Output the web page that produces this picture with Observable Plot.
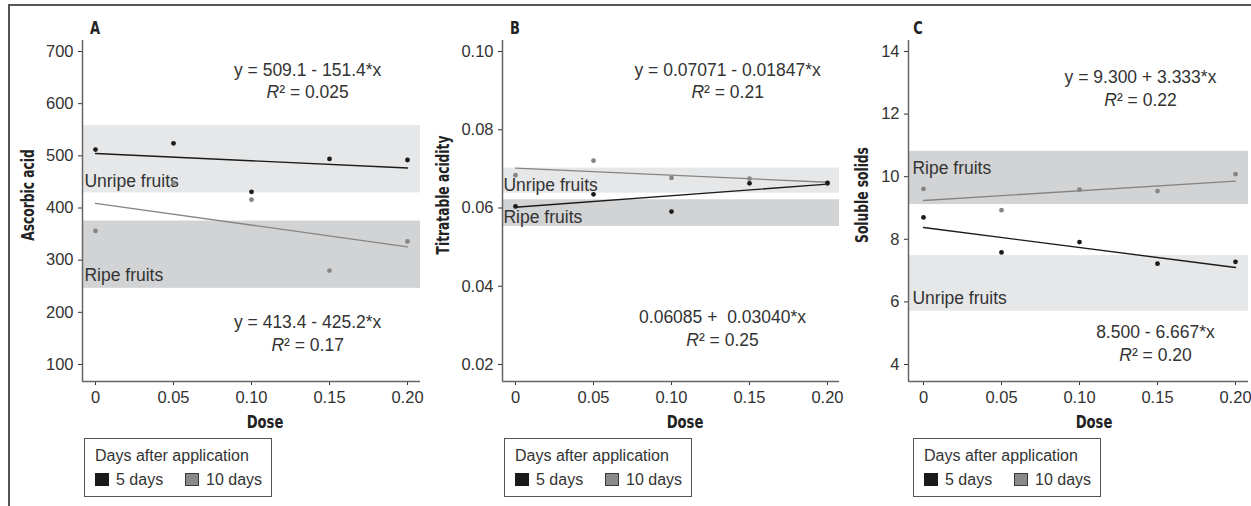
<!DOCTYPE html>
<html>
<head>
<meta charset="utf-8">
<script src="https://cdn.jsdelivr.net/npm/d3@7"></script>
<script src="https://cdn.jsdelivr.net/npm/@observablehq/plot@0.6"></script>
<style>
  html, body { margin: 0; padding: 0; background: #fff; }
  #fig { position: relative; width: 1251px; height: 506px; overflow: hidden; font-family: "Liberation Sans", Arial, sans-serif; color: #333; }
  #fig svg { position: absolute; top: 0; }
  .lbl { position: absolute; white-space: nowrap; line-height: 1; }
  .bold { font-family: "Liberation Sans Narrow", "DejaVu Sans Condensed", sans-serif; font-weight: bold; font-size: 17px; color: #222; }
  .legend { position: absolute; top: 438px; width: 186px; height: 57px; border: 1.5px solid #555; font-size: 16px; color: #333; }
  .legend .t { position: absolute; left: 10px; top: 8px; }
  .legend .sq { position: absolute; top: 34px; width: 14px; height: 13px; box-sizing: border-box; }
  .legend .k { position: absolute; top: 32px; }
</style>
</head>
<body>
<div id="fig"></div>
<script>
// ---------- data ----------
const doses = [0, 0.05, 0.10, 0.15, 0.20];
const xTicks = [0, 0.05, 0.10, 0.15, 0.20];
const xTickLabels = ["0", "0.05", "0.10", "0.15", "0.20"];

const seriesNames = ["5 days", "10 days"];
const legendTitle = "Days after application";

// Panel A: Ascorbic acid
const ascorbic5  = [512, 524, 431, 494, 492];
const ascorbic10 = [356, 448, 416, 280, 336];
const ascorbicTicks = [100, 200, 300, 400, 500, 600, 700];
const ascorbicTickLabels = ["100", "200", "300", "400", "500", "600", "700"];
const ascorbicUnripe = [429, 558];
const ascorbicRipe = [246, 375];
const ascorbicEq = ["y = 509.1 - 151.4*x", "y = 413.4 - 425.2*x"];
const ascorbicR2 = ["R² = 0.025", "R² = 0.17"];

// Panel B: Titratable acidity
const acidity5  = [0.0604, 0.0635, 0.0591, 0.0663, 0.0664];
const acidity10 = [0.0684, 0.0721, 0.0677, 0.0675, 0.0662];
const acidityTicks = [0.02, 0.04, 0.06, 0.08, 0.10];
const acidityTickLabels = ["0.02", "0.04", "0.06", "0.08", "0.10"];
const acidityUnripe = [0.0638, 0.0702];
const acidityRipe = [0.0553, 0.0621];
const acidityEq = ["y = 0.07071 - 0.01847*x", "0.06085 +  0.03040*x"];
const acidityR2 = ["R² = 0.21", "R² = 0.25"];

// Panel C: Soluble solids
const solids5  = [8.70, 7.58, 7.91, 7.22, 7.28];
const solids10 = [9.61, 8.93, 9.59, 9.54, 10.08];
const solidsTicks = [4, 6, 8, 10, 12, 14];
const solidsTickLabels = ["4", "6", "8", "10", "12", "14"];
const solidsRipe = [9.11, 10.81];
const solidsUnripe = [5.70, 7.48];
const solidsEq = ["y = 9.300 + 3.333*x", "8.500 - 6.667*x"];
const solidsR2 = ["R² = 0.22", "R² = 0.20"];

const panelLetters = ["A", "B", "C"];
const yTitles = ["Ascorbic acid", "Titratable acidity", "Soluble solids"];
const xTitle = "Dose";
const bandNames = ["Unripe fruits", "Ripe fruits"];

// ---------- style ----------
const C5 = "#1a1a1a", C10 = "#858585";
const LIGHT = "#e6e7e8", DARK = "#d2d3d5";
const FONT = '"Liberation Sans", Arial, sans-serif';

const fig = document.getElementById("fig");

function rows(vals) { return doses.map((d, i) => ({dose: d, value: vals[i]})); }

function panel(o) {
  const x0 = o.xDomain[0], x1 = o.xDomain[1];
  const y0 = o.yDomain[0];
  const bands = [
    {lo: o.unripe[0], hi: o.unripe[1], fill: LIGHT},
    {lo: o.ripe[0], hi: o.ripe[1], fill: DARK}
  ];
  const r5 = rows(o.v5), r10 = rows(o.v10);
  const T = {fontSize: 17.5, fill: "#333"};
  const svg = Plot.plot({
    width: o.width, height: 431,
    marginLeft: o.marginLeft, marginRight: o.marginRight, marginTop: 40, marginBottom: 50,
    style: {fontFamily: FONT, fontSize: "16.5px", color: "#333", background: "transparent", overflow: "visible"},
    x: {domain: o.xDomain, ticks: xTicks, tickFormat: (d) => xTickLabels[xTicks.indexOf(d)], tickSize: 4, tickPadding: 6, label: null},
    y: {domain: o.yDomain, ticks: o.yTicks, tickFormat: (d) => o.yLabels[o.yTicks.indexOf(d)], tickSize: 4, tickPadding: 5, label: null},
    marks: [
      Plot.rect(bands, {x1: x0, x2: x1, y1: "lo", y2: "hi", fill: "fill"}),
      Plot.text([bandNames[0]], {x: o.bandLabelX, y: o.unripeLabelY, text: d => d, textAnchor: "start", ...T}),
      Plot.text([bandNames[1]], {x: o.bandLabelX, y: o.ripeLabelY, text: d => d, textAnchor: "start", ...T}),
      Plot.linearRegressionY(r10, {x: "dose", y: "value", stroke: C10, strokeWidth: 1.3, ci: 0}),
      Plot.linearRegressionY(r5, {x: "dose", y: "value", stroke: C5, strokeWidth: 1.4, ci: 0}),
      Plot.dot(r10, {x: "dose", y: "value", r: 2.4, fill: C10}),
      Plot.dot(r5, {x: "dose", y: "value", r: 2.4, fill: C5}),
      Plot.text([o.eq[0]], {x: o.eqX[0], y: o.eqY[0], text: d => d, ...T}),
      Plot.text([o.r2[0]], {x: o.eqX[0], y: o.eqY[1], text: d => d, ...T}),
      Plot.text([o.eq[1]], {x: o.eqX[1], y: o.eqY[2], text: d => d, ...T}),
      Plot.text([o.r2[1]], {x: o.eqX[1], y: o.eqY[3], text: d => d, ...T}),
      Plot.ruleX([x0], {stroke: "#666", strokeWidth: 1.5}),
      Plot.ruleY([y0], {stroke: "#666", strokeWidth: 1.5})
    ]
  });
  d3.select(svg).selectAll("g[aria-label$='axis'] line, g[aria-label$='axis'] path").attr("stroke", "#555");
  d3.select(svg).selectAll("text").each(function () {
    const t = this.textContent;
    if (t.startsWith("R²") && this.childElementCount === 0) {
      const rest = t.slice(1);
      this.textContent = "";
      d3.select(this).append("tspan").attr("font-style", "italic").text("R");
      d3.select(this).append("tspan").text(rest);
    }
  });
  svg.style.left = o.left + "px";
  fig.appendChild(svg);
}

panel({
  left: 0, width: 420, marginLeft: 82, marginRight: 0,
  xDomain: [-0.00833, 0.20833], yDomain: [67.4, 721.1],
  yTicks: ascorbicTicks, yLabels: ascorbicTickLabels,
  v5: ascorbic5, v10: ascorbic10, unripe: ascorbicUnripe, ripe: ascorbicRipe,
  bandLabelX: -0.0071, unripeLabelY: 450.8, ripeLabelY: 271.6,
  eq: ascorbicEq, r2: ascorbicR2, eqX: [0.136, 0.136], eqY: [663.6, 621.4, 180.5, 136.4]
});
panel({
  left: 420, width: 420, marginLeft: 82, marginRight: 1,
  xDomain: [-0.00833, 0.2077], yDomain: [0.01566, 0.10281],
  yTicks: acidityTicks, yLabels: acidityTickLabels,
  v5: acidity5, v10: acidity10, unripe: acidityUnripe, ripe: acidityRipe,
  bandLabelX: -0.0077, unripeLabelY: 0.06575, ripeLabelY: 0.05765,
  eq: acidityEq, r2: acidityR2, eqX: [0.136, 0.1327], eqY: [0.09514, 0.08952, 0.03201, 0.02613]
});
panel({
  left: 840, width: 411, marginLeft: 68, marginRight: 3,
  xDomain: [-0.00962, 0.20833], yDomain: [3.457, 14.351],
  yTicks: solidsTicks, yLabels: solidsTickLabels,
  v5: solids5, v10: solids10, unripe: solidsUnripe, ripe: solidsRipe,
  bandLabelX: -0.0071, unripeLabelY: 6.11, ripeLabelY: 10.26,
  eq: solidsEq, r2: solidsR2, eqX: [0.1391, 0.1487], eqY: [13.17, 12.43, 5.02, 4.29]
});

// ---------- frame, titles, legends ----------
const frame = document.createElement("div");
frame.style.cssText = "position:absolute;left:8px;top:4px;width:1250px;height:510px;border-top:2px solid #555;border-left:2px solid #555;";
fig.appendChild(frame);

function label(x, y, text, cls, rotate, sx) {
  const el = document.createElement("div");
  el.className = "lbl " + cls;
  el.textContent = text;
  el.style.left = x + "px";
  el.style.top = y + "px";
  el.style.transform = "translate(-50%, -50%)" + (rotate ? " rotate(-90deg)" : "") + " scaleX(" + (sx || 1) + ")";
  fig.appendChild(el);
}
const letterX = [95, 515, 918];
const yTitleX = [28, 443, 862];
const doseX = [265, 685, 1094];
const legendLeft = [84, 504, 913];
for (let i = 0; i < 3; i++) {
  label(letterX[i], 28, panelLetters[i], "bold", false, 0.85);
  label(yTitleX[i], 195, yTitles[i], "bold", true, 0.8);
  label(doseX[i], 422, xTitle, "bold", false, 0.86);
  const lg = document.createElement("div");
  lg.className = "legend";
  lg.style.left = legendLeft[i] + "px";
  lg.innerHTML =
    `<div class="t">${legendTitle}</div>` +
    `<div class="sq" style="left:10px;background:${C5};"></div>` +
    `<div class="k" style="left:31px;">${seriesNames[0]}</div>` +
    `<div class="sq" style="left:100px;background:#8a8a8a;border:1.5px solid #3a3a3a;"></div>` +
    `<div class="k" style="left:121px;">${seriesNames[1]}</div>`;
  fig.appendChild(lg);
}
</script>
</body>
</html>
